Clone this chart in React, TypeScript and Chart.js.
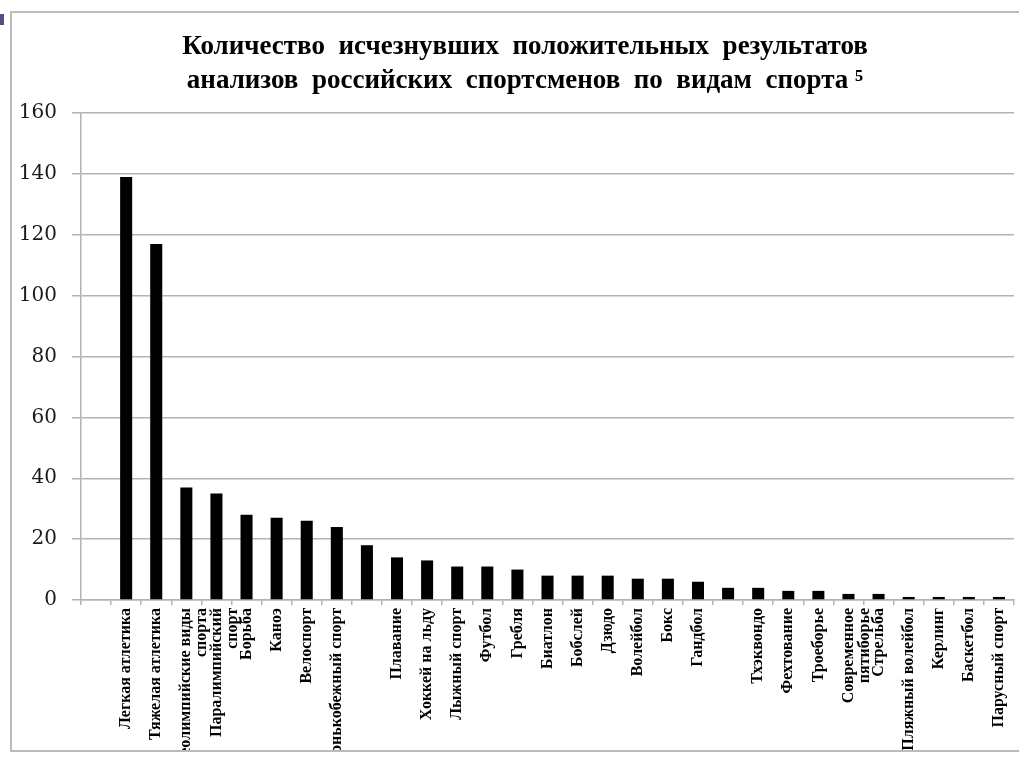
import React, { useEffect, useRef } from 'react';
import { Chart, registerables } from 'chart.js';

Chart.register(...registerables);

// Leading empty slot, then one slot per bar. Two bars carry no label in the picture.
const categories: (string | string[])[] = [
  '',
  'Легкая атлетика',
  'Тяжелая атлетика',
  ['Неолимпийские виды', 'спорта'],
  ['Паралимпийский', 'спорт'],
  'Борьба',
  'Каноэ',
  'Велоспорт',
  'Конькобежный спорт',
  '',
  'Плавание',
  'Хоккей на льду',
  'Лыжный спорт',
  'Футбол',
  'Гребля',
  'Биатлон',
  'Бобслей',
  'Дзюдо',
  'Волейбол',
  'Бокс',
  'Гандбол',
  '',
  'Тхэквондо',
  'Фехтование',
  'Троеборье',
  ['Современное', 'пятиборье'],
  'Стрельба',
  'Пляжный волейбол',
  'Керлинг',
  'Баскетбол',
  'Парусный спорт',
];

const values: (number | null)[] = [
  null, 139, 117, 37, 35, 28, 27, 26, 24, 18, 14, 13, 11, 11, 10, 8, 8, 8, 7, 7, 6, 4, 4, 3, 3, 2, 2, 1, 1, 1, 1,
];

const yTicks = { min: 0, max: 160, step: 20 };

const titleLines = [
  'Количество  исчезнувших  положительных  результатов',
  'анализов  российских  спортсменов  по  видам  спорта ⁵',
];

// Let the y-axis labels use the space left of the axis box (the layout padding is there to centre the title).
const yLabelRoom = {
  id: 'yLabelRoom',
  afterLayout(chart: any) {
    const y = chart.scales.y;
    if (y) y.left = 0;
  },
};

export default function App() {
  const ref = useRef<HTMLCanvasElement | null>(null);

  useEffect(() => {
    document.body.style.margin = '0';
    const canvas = ref.current;
    if (!canvas) return;
    const gridColor = '#b3b3b3';
    const chart = new Chart(canvas, {
      type: 'bar',
      data: {
        labels: categories,
        datasets: [
          {
            data: values,
            backgroundColor: '#000000',
            borderWidth: 0,
            barPercentage: 0.4,
            categoryPercentage: 1,
          },
        ],
      },
      plugins: [yLabelRoom],
      options: {
        responsive: false,
        animation: false,
        devicePixelRatio: 1,
        layout: { padding: { left: 24, right: 5, top: 0, bottom: 0 } },
        plugins: {
          legend: { display: false },
          tooltip: { enabled: false },
          title: {
            display: true,
            text: titleLines,
            color: '#000000',
            font: { family: '"Liberation Serif", serif', size: 27, weight: 'bold', lineHeight: 34 / 27 },
            padding: { top: 17, bottom: 15 },
          },
        },
        scales: {
          x: {
            offset: true,
            border: { display: true, color: gridColor, width: 1.5 },
            grid: {
              display: true,
              drawOnChartArea: false,
              drawTicks: true,
              tickLength: 5,
              color: gridColor,
              lineWidth: 1.5,
              offset: true,
            },
            ticks: {
              autoSkip: false,
              maxRotation: 90,
              minRotation: 90,
              padding: 3,
              color: '#000000',
              font: { family: '"Liberation Serif", serif', size: 16, weight: 'bold', lineHeight: 1.0 },
            },
            afterFit: (scale: any) => {
              scale.height = 150;
            },
          },
          y: {
            min: yTicks.min,
            max: yTicks.max,
            border: { display: true, color: gridColor, width: 1.5 },
            grid: {
              color: gridColor,
              lineWidth: 1.5,
              drawTicks: true,
              tickLength: 9,
            },
            ticks: {
              stepSize: yTicks.step,
              padding: 15,
              color: '#1a1a1a',
              font: { family: '"DejaVu Serif", serif', size: 20 },
            },
            afterFit: (scale: any) => {
              scale.width = 45;
            },
          },
        },
      },
    });
    return () => chart.destroy();
  }, []);

  return (
    <div style={{ position: 'relative', width: 1019, height: 757, overflow: 'hidden', background: '#ffffff' }}>
      <div
        style={{
          position: 'absolute',
          left: 0,
          top: 14,
          width: 4,
          height: 11,
          background: '#5b4b8b',
        }}
      />
      <div
        style={{
          position: 'absolute',
          left: 10,
          top: 11,
          width: 1030,
          height: 737,
          border: '2px solid #bcbcbc',
          overflow: 'hidden',
        }}
      >
        <canvas ref={ref} width={1007} height={737} style={{ display: 'block' }} />
      </div>
    </div>
  );
}
